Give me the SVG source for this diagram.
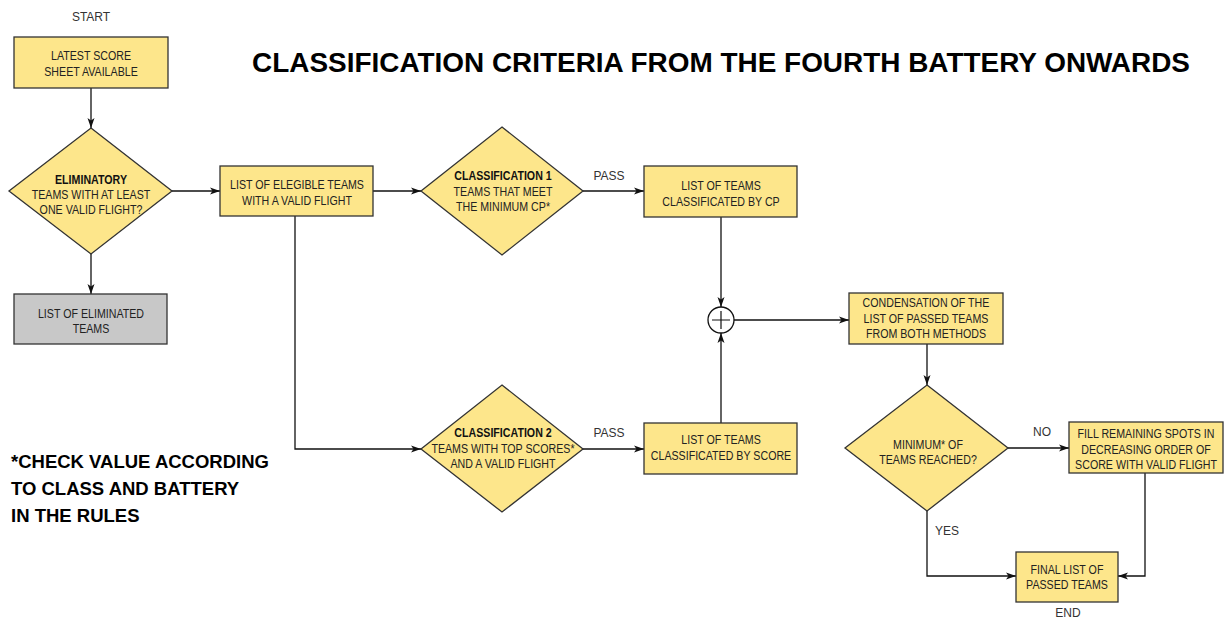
<svg xmlns="http://www.w3.org/2000/svg" width="1226" height="620" viewBox="0 0 1226 620">
<style>
.box{fill:#FDE68B;stroke:#333;stroke-width:1.3}
.gray{fill:#C8C8C8;stroke:#333;stroke-width:1.3}
.t{font-family:"Liberation Sans",Arial,sans-serif;font-size:13px;fill:#222;text-anchor:middle}
.b{font-weight:bold;fill:#111}
.lbl{font-family:"Liberation Sans",Arial,sans-serif;font-size:12px;fill:#333;text-anchor:middle}
.c{fill:none;stroke:#111;stroke-width:1.3}
.big{font-family:"Liberation Sans",Arial,sans-serif;font-weight:bold;fill:#000}
</style>
<defs>
<marker id="ah" markerWidth="10" markerHeight="8" refX="10" refY="4" orient="auto" markerUnits="userSpaceOnUse">
<path d="M0,0.5 L10,4 L0,7.5 L2.5,4 z" fill="#111"/>
</marker>
</defs>
<rect width="1226" height="620" fill="#fff"/>
<text class="big" x="252" y="72" font-size="27" textLength="938" lengthAdjust="spacingAndGlyphs">CLASSIFICATION CRITERIA FROM THE FOURTH BATTERY ONWARDS</text>
<g id="footnote">
<text class="big" x="11" y="468" font-size="18.5">*CHECK VALUE ACCORDING</text>
<text class="big" x="11" y="495" font-size="18.5">TO CLASS AND BATTERY</text>
<text class="big" x="11" y="522" font-size="18.5">IN THE RULES</text>
</g>
<g id="connectors">
<line class="c" x1="91" y1="88" x2="91" y2="128" marker-end="url(#ah)"/>
<line class="c" x1="91" y1="254" x2="91" y2="294" marker-end="url(#ah)"/>
<line class="c" x1="172" y1="191" x2="220" y2="191" marker-end="url(#ah)"/>
<line class="c" x1="373" y1="191" x2="421" y2="191" marker-end="url(#ah)"/>
<polyline class="c" points="295,216 295,449 421,449" marker-end="url(#ah)"/>
<line class="c" x1="583" y1="191" x2="644" y2="191" marker-end="url(#ah)"/>
<line class="c" x1="583" y1="449" x2="644" y2="449" marker-end="url(#ah)"/>
<line class="c" x1="721" y1="217" x2="721" y2="307" marker-end="url(#ah)"/>
<line class="c" x1="721" y1="423" x2="721" y2="333" marker-end="url(#ah)"/>
<line class="c" x1="734" y1="320" x2="849" y2="320" marker-end="url(#ah)"/>
<line class="c" x1="927" y1="344" x2="927" y2="385" marker-end="url(#ah)"/>
<line class="c" x1="1008" y1="448" x2="1069" y2="448" marker-end="url(#ah)"/>
<polyline class="c" points="927,511 927,576 1016,576" marker-end="url(#ah)"/>
<polyline class="c" points="1145,473 1145,576 1118,576" marker-end="url(#ah)"/>
<text class="lbl" x="609" y="180">PASS</text>
<text class="lbl" x="609" y="437">PASS</text>
<text class="lbl" x="1042" y="436">NO</text>
<text class="lbl" x="947" y="535">YES</text>
</g>
<g id="start-label"><text class="lbl" x="91" y="21">START</text></g>
<g id="start">
<rect class="box" x="14" y="37" width="154" height="51"/>
<text class="t" transform="translate(91,60) scale(0.82,1)">LATEST SCORE</text>
<text class="t" transform="translate(91,75.5) scale(0.82,1)">SHEET AVAILABLE</text>
</g>
<g id="eliminatory">
<polygon class="box" points="91,128 172,191 91,254 9,191"/>
<text class="t b" transform="translate(91,184) scale(0.82,1)">ELIMINATORY</text>
<text class="t" transform="translate(91,199) scale(0.82,1)">TEAMS WITH AT LEAST</text>
<text class="t" transform="translate(91,214) scale(0.82,1)">ONE VALID FLIGHT?</text>
</g>
<g id="eliminated">
<rect class="gray" x="14" y="294" width="153" height="50"/>
<text class="t" transform="translate(91,318) scale(0.82,1)">LIST OF ELIMINATED</text>
<text class="t" transform="translate(91,333) scale(0.82,1)">TEAMS</text>
</g>
<g id="elegible">
<rect class="box" x="220" y="166" width="153" height="50"/>
<text class="t" transform="translate(297,189) scale(0.82,1)">LIST OF ELEGIBLE TEAMS</text>
<text class="t" transform="translate(297,205) scale(0.82,1)">WITH A VALID FLIGHT</text>
</g>
<g id="class1">
<polygon class="box" points="502,127 583,191 502,255 421,191"/>
<text class="t b" transform="translate(503,180) scale(0.82,1)">CLASSIFICATION 1</text>
<text class="t" transform="translate(503,195.5) scale(0.82,1)">TEAMS THAT MEET</text>
<text class="t" transform="translate(503,211) scale(0.82,1)">THE MINIMUM CP*</text>
</g>
<g id="bycp">
<rect class="box" x="644" y="166" width="153" height="51"/>
<text class="t" transform="translate(721,190) scale(0.82,1)">LIST OF TEAMS</text>
<text class="t" transform="translate(721,206) scale(0.82,1)">CLASSIFICATED BY CP</text>
</g>
<g id="class2">
<polygon class="box" points="502,385 583,449 502,512 421,449"/>
<text class="t b" transform="translate(503,437) scale(0.82,1)">CLASSIFICATION 2</text>
<text class="t" transform="translate(503,453) scale(0.82,1)">TEAMS WITH TOP SCORES*</text>
<text class="t" transform="translate(503,468) scale(0.82,1)">AND A VALID FLIGHT</text>
</g>
<g id="byscore">
<rect class="box" x="644" y="423" width="153" height="51"/>
<text class="t" transform="translate(721,444) scale(0.82,1)">LIST OF TEAMS</text>
<text class="t" transform="translate(721,460) scale(0.82,1)">CLASSIFICATED BY SCORE</text>
</g>
<g id="merge">
<circle cx="721" cy="320" r="13" fill="#fff" stroke="#111" stroke-width="1.3"/>
<path d="M712,320 H730 M721,311 V329" stroke="#111" stroke-width="1.2"/>
</g>
<g id="condensation">
<rect class="box" x="849" y="293" width="154" height="51"/>
<text class="t" transform="translate(926,307) scale(0.82,1)">CONDENSATION OF THE</text>
<text class="t" transform="translate(926,323) scale(0.82,1)">LIST OF PASSED TEAMS</text>
<text class="t" transform="translate(926,338) scale(0.82,1)">FROM BOTH METHODS</text>
</g>
<g id="minimum">
<polygon class="box" points="927,385 1008,448 927,511 845,448"/>
<text class="t" transform="translate(928,449) scale(0.82,1)">MINIMUM* OF</text>
<text class="t" transform="translate(928,464) scale(0.82,1)">TEAMS REACHED?</text>
</g>
<g id="fill">
<rect class="box" x="1069" y="422" width="154" height="51"/>
<text class="t" transform="translate(1146,438) scale(0.82,1)">FILL REMAINING SPOTS IN</text>
<text class="t" transform="translate(1146,454) scale(0.82,1)">DECREASING ORDER OF</text>
<text class="t" transform="translate(1146,469) scale(0.82,1)">SCORE WITH VALID FLIGHT</text>
</g>
<g id="final">
<rect class="box" x="1016" y="552" width="102" height="50"/>
<text class="t" transform="translate(1067,574) scale(0.82,1)">FINAL LIST OF</text>
<text class="t" transform="translate(1067,589) scale(0.82,1)">PASSED TEAMS</text>
</g>
<g id="end-label"><text class="lbl" x="1068" y="617">END</text></g>
</svg>
